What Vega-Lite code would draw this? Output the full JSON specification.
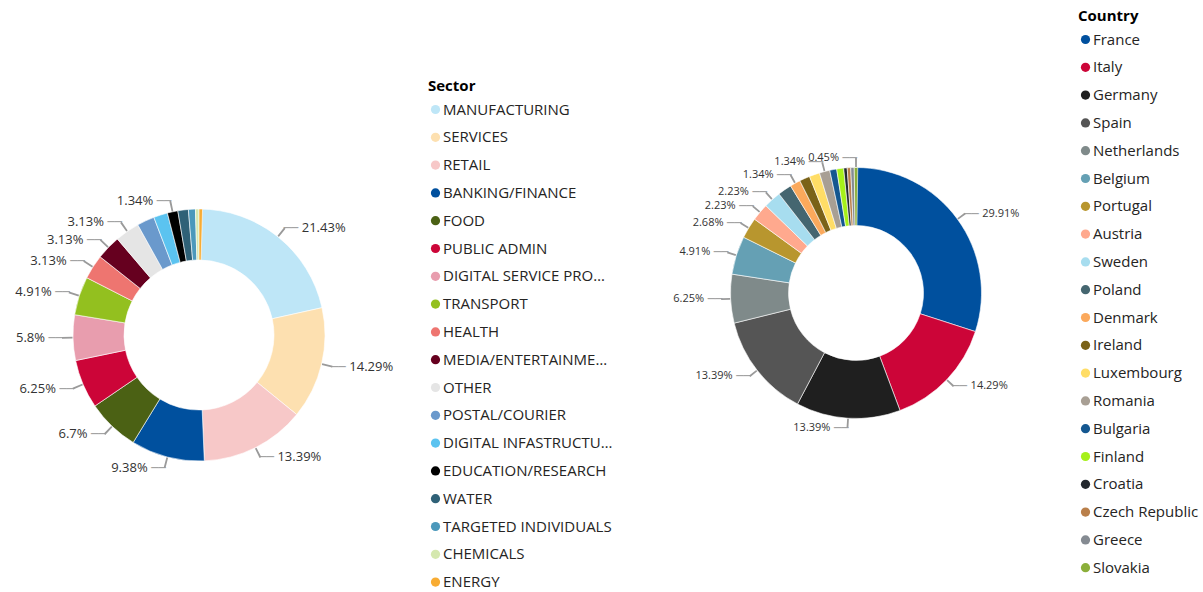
{
  "$schema": "https://vega.github.io/schema/vega-lite/v6.json",
  "padding": 0,
  "background": "white",
  "spacing": 7,
  "config": {
    "view": {"stroke": null},
    "font": "Open Sans",
    "legend": {
      "titleFontSize": 15, "titleFontWeight": "bold", "titleColor": "#000000",
      "labelFontSize": 15, "labelColor": "#252423",
      "symbolType": "circle", "symbolSize": 85, "symbolStrokeWidth": 0,
      "rowPadding": 11.8, "titlePadding": 8, "labelOffset": 0, "padding": 0, "labelLimit": 170
    }
  },
  "resolve": {"scale": {"color": "independent", "theta": "independent"}, "legend": {"color": "independent"}},
  "hconcat": [
    {
      "width": 398, "height": 500,
      "title": {"text": " ", "fontSize": 10, "offset": 69},
      "data": {"values": [
        {"sector": "MANUFACTURING", "count": 48},
        {"sector": "SERVICES", "count": 32},
        {"sector": "RETAIL", "count": 30},
        {"sector": "BANKING/FINANCE", "count": 21},
        {"sector": "FOOD", "count": 15},
        {"sector": "PUBLIC ADMIN", "count": 14},
        {"sector": "DIGITAL SERVICE PROVIDERS", "count": 13},
        {"sector": "TRANSPORT", "count": 11},
        {"sector": "HEALTH", "count": 7},
        {"sector": "MEDIA/ENTERTAINMENT", "count": 7},
        {"sector": "OTHER", "count": 7},
        {"sector": "POSTAL/COURIER", "count": 5},
        {"sector": "DIGITAL INFASTRUCTURE", "count": 4},
        {"sector": "EDUCATION/RESEARCH", "count": 3},
        {"sector": "WATER", "count": 3},
        {"sector": "TARGETED INDIVIDUALS", "count": 2},
        {"sector": "CHEMICALS", "count": 1},
        {"sector": "ENERGY", "count": 1}
      ]},
      "transform": [
        {"joinaggregate": [{"op": "sum", "field": "count", "as": "total"}]},
        {"window": [{"op": "sum", "field": "count", "as": "cum"}], "frame": [null, 0]},
        {"calculate": "datum.cum - datum.count", "as": "start"},
        {"calculate": "datum.cum - datum.count / 2", "as": "mid"},
        {"calculate": "datum.mid - datum.total * 0.0011", "as": "ta"},
        {"calculate": "datum.mid + datum.total * 0.0011", "as": "tb"},
        {"calculate": "format(datum.count / datum.total * 100, '.2~f') + '%'", "as": "pct"},
        {"calculate": "datum.mid / datum.total < 0.5 ? 1 : -1", "as": "side"},
        {"calculate": "datum.count >= 7 || datum.sector == 'EDUCATION/RESEARCH'", "as": "labeled"}
      ],
      "layer": [
        {
          "mark": {"type": "arc", "innerRadius": 75, "outerRadius": 126, "stroke": "#ffffff", "strokeWidth": 0.6},
          "encoding": {
            "theta": {"field": "start", "type": "quantitative", "scale": {"zero": true, "nice": false}},
            "theta2": {"field": "cum"},
            "color": {
              "field": "sector", "type": "nominal",
              "scale": {
                "domain": ["MANUFACTURING","SERVICES","RETAIL","BANKING/FINANCE","FOOD","PUBLIC ADMIN","DIGITAL SERVICE PROVIDERS","TRANSPORT","HEALTH","MEDIA/ENTERTAINMENT","OTHER","POSTAL/COURIER","DIGITAL INFASTRUCTURE","EDUCATION/RESEARCH","WATER","TARGETED INDIVIDUALS","CHEMICALS","ENERGY"],
                "range": ["#BEE6F7","#FDE0B0","#F7C8C8","#00509E","#4B6114","#CC0538","#E89DAE","#93C01F","#EE7570","#66001F","#E5E5E5","#6A99CC","#5BC3F0","#000000","#2F6177","#4B98BB","#D5E8AF","#F8AC33"]
              },
              "legend": {"title": "Sector", "orient": "none", "legendX": 428, "legendY": -6}
            }
          }
        },
        {
          "transform": [{"filter": "datum.labeled"}],
          "mark": {"type": "arc", "innerRadius": 126.5, "outerRadius": 137, "color": "#9a9a9a"},
          "encoding": {
            "theta": {"field": "ta", "type": "quantitative"},
            "theta2": {"field": "tb"}
          }
        },
        {
          "transform": [{"filter": "datum.labeled && datum.side > 0"}],
          "mark": {"type": "text", "align": "left", "baseline": "middle", "font": "DejaVu Sans Mono", "fontSize": 12, "color": "#9a9a9a", "dx": -1},
          "encoding": {
            "theta": {"field": "mid", "type": "quantitative", "stack": null},
            "radius": {"value": 137},
            "text": {"value": "──"}
          }
        },
        {
          "transform": [{"filter": "datum.labeled && datum.side < 0"}],
          "mark": {"type": "text", "align": "right", "baseline": "middle", "font": "DejaVu Sans Mono", "fontSize": 12, "color": "#9a9a9a", "dx": 1},
          "encoding": {
            "theta": {"field": "mid", "type": "quantitative", "stack": null},
            "radius": {"value": 137},
            "text": {"value": "──"}
          }
        },
        {
          "transform": [{"filter": "datum.labeled && datum.side > 0"}],
          "mark": {"type": "text", "align": "left", "baseline": "middle", "fontSize": 13, "color": "#333333", "dx": 17},
          "encoding": {
            "theta": {"field": "mid", "type": "quantitative", "stack": null},
            "radius": {"value": 137},
            "text": {"field": "pct"}
          }
        },
        {
          "transform": [{"filter": "datum.labeled && datum.side < 0"}],
          "mark": {"type": "text", "align": "right", "baseline": "middle", "fontSize": 13, "color": "#333333", "dx": -17},
          "encoding": {
            "theta": {"field": "mid", "type": "quantitative", "stack": null},
            "radius": {"value": 137},
            "text": {"field": "pct"}
          }
        }
      ]
    },
    {
      "width": 472, "height": 416,
      "data": {"values": [
        {"country": "France", "count": 67},
        {"country": "Italy", "count": 32},
        {"country": "Germany", "count": 30},
        {"country": "Spain", "count": 30},
        {"country": "Netherlands", "count": 14},
        {"country": "Belgium", "count": 11},
        {"country": "Portugal", "count": 6},
        {"country": "Austria", "count": 5},
        {"country": "Sweden", "count": 5},
        {"country": "Poland", "count": 4},
        {"country": "Denmark", "count": 3},
        {"country": "Ireland", "count": 3},
        {"country": "Luxembourg", "count": 3},
        {"country": "Romania", "count": 3},
        {"country": "Bulgaria", "count": 2},
        {"country": "Finland", "count": 2},
        {"country": "Croatia", "count": 1},
        {"country": "Czech Republic", "count": 1},
        {"country": "Greece", "count": 1},
        {"country": "Slovakia", "count": 1}
      ]},
      "transform": [
        {"joinaggregate": [{"op": "sum", "field": "count", "as": "total"}]},
        {"window": [{"op": "sum", "field": "count", "as": "cum"}], "frame": [null, 0]},
        {"calculate": "datum.cum - datum.count", "as": "start"},
        {"calculate": "datum.cum - datum.count / 2", "as": "mid"},
        {"calculate": "datum.mid - datum.total * 0.0011", "as": "ta"},
        {"calculate": "datum.mid + datum.total * 0.0011", "as": "tb"},
        {"calculate": "format(datum.count / datum.total * 100, '.2~f') + '%'", "as": "pct"},
        {"calculate": "datum.mid / datum.total < 0.5 ? 1 : -1", "as": "side"},
        {"calculate": "datum.count >= 5 || indexof(['Denmark', 'Romania', 'Slovakia'], datum.country) >= 0", "as": "labeled"}
      ],
      "layer": [
        {
          "mark": {"type": "arc", "innerRadius": 67.5, "outerRadius": 125.5, "stroke": "#ffffff", "strokeWidth": 0.6},
          "encoding": {
            "theta": {"field": "start", "type": "quantitative", "scale": {"zero": true, "nice": false}},
            "theta2": {"field": "cum"},
            "color": {
              "field": "country", "type": "nominal",
              "scale": {
                "domain": ["France","Italy","Germany","Spain","Netherlands","Belgium","Portugal","Austria","Sweden","Poland","Denmark","Ireland","Luxembourg","Romania","Bulgaria","Finland","Croatia","Czech Republic","Greece","Slovakia"],
                "range": ["#00509E","#CC0538","#1F1F1F","#555555","#7F8A8A","#65A0B4","#B8962E","#FFA98E","#A7DDEF","#456670","#FBA95C","#7A6218","#FFDD66","#A89F94","#145790","#A6F01A","#23282E","#B97F4A","#858B92","#8BAF3A"]
              },
              "legend": {"title": "Country", "orient": "none", "legendX": 458, "legendY": -76}
            }
          }
        },
        {
          "transform": [{"filter": "datum.labeled"}],
          "mark": {"type": "arc", "innerRadius": 126, "outerRadius": 135, "color": "#9a9a9a"},
          "encoding": {
            "theta": {"field": "ta", "type": "quantitative"},
            "theta2": {"field": "tb"}
          }
        },
        {
          "transform": [{"filter": "datum.labeled && datum.side > 0"}],
          "mark": {"type": "text", "align": "left", "baseline": "middle", "font": "DejaVu Sans Mono", "fontSize": 12, "color": "#9a9a9a", "dx": -1},
          "encoding": {
            "theta": {"field": "mid", "type": "quantitative", "stack": null},
            "radius": {"value": 135},
            "text": {"value": "──"}
          }
        },
        {
          "transform": [{"filter": "datum.labeled && datum.side < 0"}],
          "mark": {"type": "text", "align": "right", "baseline": "middle", "font": "DejaVu Sans Mono", "fontSize": 12, "color": "#9a9a9a", "dx": 1},
          "encoding": {
            "theta": {"field": "mid", "type": "quantitative", "stack": null},
            "radius": {"value": 135},
            "text": {"value": "──"}
          }
        },
        {
          "transform": [{"filter": "datum.labeled && datum.side > 0"}],
          "mark": {"type": "text", "align": "left", "baseline": "middle", "fontSize": 11, "color": "#333333", "dx": 17},
          "encoding": {
            "theta": {"field": "mid", "type": "quantitative", "stack": null},
            "radius": {"value": 135},
            "text": {"field": "pct"}
          }
        },
        {
          "transform": [{"filter": "datum.labeled && datum.side < 0"}],
          "mark": {"type": "text", "align": "right", "baseline": "middle", "fontSize": 11, "color": "#333333", "dx": -17},
          "encoding": {
            "theta": {"field": "mid", "type": "quantitative", "stack": null},
            "radius": {"value": 135},
            "text": {"field": "pct"}
          }
        }
      ]
    }
  ]
}
